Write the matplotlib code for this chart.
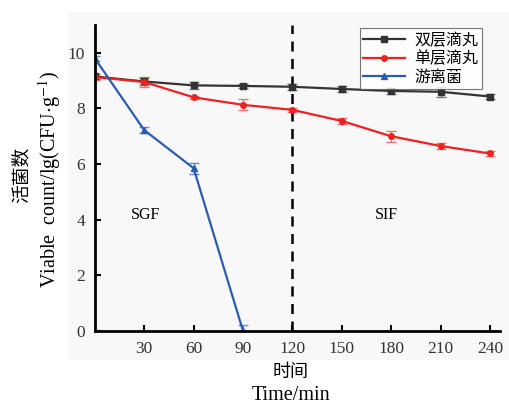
import matplotlib
matplotlib.use("Agg")
import matplotlib.pyplot as plt
from matplotlib.patches import Rectangle
from matplotlib.lines import Line2D

plt.rcParams['font.family'] = ['Liberation Serif', 'Noto Sans CJK SC']
plt.rcParams['mathtext.fontset'] = 'stix'

times = [0, 30, 60, 90, 120, 150, 180, 210, 240]
double_layer = [9.15, 8.97, 8.83, 8.81, 8.78, 8.70, 8.63, 8.60, 8.43]
double_err = [0.10, 0.12, 0.12, 0.08, 0.10, 0.10, 0.10, 0.18, 0.10]
single_layer = [9.13, 8.95, 8.40, 8.13, 7.95, 7.55, 7.00, 6.65, 6.38]
single_err = [0.10, 0.18, 0.05, 0.20, 0.08, 0.12, 0.20, 0.12, 0.10]
free_times = [0, 30, 60, 90]
free_cells = [9.80, 7.22, 5.85, 0.0]
free_err = [0.10, 0.12, 0.20, 0.20]

labels = ['双层滴丸', '单层滴丸', '游离菌']
xticks = [30, 60, 90, 120, 150, 180, 210, 240]
yticks = [0, 2, 4, 6, 8, 10]

colors = ['#333333', '#f02020', '#2a5cb0']
ecolors = ['#777777', '#f07070', '#6a8cd0']
markers = ['s', 'o', '^']

fig = plt.figure(figsize=(5.1, 4.04), dpi=100)
fig.patches.append(Rectangle((0.133, 0.11), 0.867, 0.86, transform=fig.transFigure,
                             facecolor='#f8f8f8', edgecolor='none', zorder=-10))
ax = fig.add_axes([0.186, 0.181, 0.794, 0.757])
ax.set_facecolor('none')

series = [(times, double_layer, double_err), (times, single_layer, single_err),
          (free_times, free_cells, free_err)]
for (x, y, e), c, ec, m in zip(series, colors, ecolors, markers):
    ax.errorbar(x, y, yerr=e, color=c, marker=m, ms=4, lw=1.6, capsize=3.5,
                elinewidth=0.8, ecolor=ec)

ax.axvline(120, color='black', ls='--', lw=1.8, dashes=(4, 3))

ax.text(31, 4.15, 'SGF', ha='center', va='center', fontsize=11.5)
ax.text(177, 4.15, 'SIF', ha='center', va='center', fontsize=11.5)

ax.set_xlim(0, 246)
ax.set_ylim(0, 11)
ax.set_xticks(xticks)
ax.set_yticks(yticks)
ax.tick_params(direction='in', length=4, width=1.5, labelsize=12.5, colors='black',
               labelcolor='#333333', pad=7)
for s in ['top', 'right']:
    ax.spines[s].set_visible(False)
for s in ['left', 'bottom']:
    ax.spines[s].set_linewidth(2)

handles = [Line2D([], [], color=c, marker=m, ms=4, lw=1.6) for c, m in zip(colors, markers)]
leg = ax.legend(handles, labels, loc='upper right', bbox_to_anchor=(0.975, 1.015),
                frameon=True, fancybox=False, edgecolor='#555555', handlelength=2.6,
                borderpad=0.2, labelspacing=0.1, handletextpad=0.6,
                prop={'family': ['Noto Sans CJK SC'], 'size': 11.5})
leg.get_frame().set_linewidth(0.8)

fig.text(0.57, 0.08, '时间', ha='center', va='center', fontsize=13,
         family=['Noto Sans CJK SC'])
fig.text(0.57, 0.022, 'Time/min', ha='center', va='center', fontsize=14.5)
fig.text(0.042, 0.567, '活菌数', ha='center', va='center', rotation=90, fontsize=13.5,
         family=['Noto Sans CJK SC'])
fig.text(0.097, 0.555, 'Viable  count/lg(CFU$\\cdot$g$^{-1}$)', ha='center', va='center',
         rotation=90, fontsize=14.5)

fig.savefig('out.png', dpi=100)
